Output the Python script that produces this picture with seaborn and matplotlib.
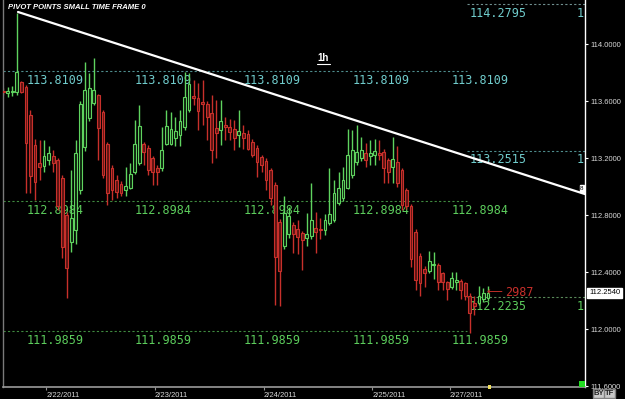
import numpy as np
import pandas as pd
import matplotlib
matplotlib.use('Agg')
import matplotlib.pyplot as plt
import seaborn as sns
from matplotlib.lines import Line2D
from matplotlib.patches import Rectangle

# ---------------- data ----------------
opens = [113.670, 113.656, 113.663, 113.663, 113.733, 113.698, 113.502, 113.291, 113.165, 113.144,
         113.186, 113.214, 113.186, 113.060, 112.800, 112.610, 112.695, 112.976, 113.277, 113.481,
         113.586, 113.642, 113.523, 113.298, 113.130, 113.046, 113.018, 112.976, 112.990, 113.102,
         113.165, 113.298, 113.270, 113.200, 113.130, 113.130, 113.298, 113.298, 113.340, 113.361,
         113.418, 113.537, 113.635, 113.621, 113.593, 113.579, 113.516, 113.411, 113.396, 113.432,
         113.418, 113.404, 113.361, 113.375, 113.368, 113.312, 113.270, 113.207, 113.179, 113.116,
         113.011, 112.751, 112.582, 112.667, 112.730, 112.702, 112.674, 112.638, 112.653, 112.709,
         112.702, 112.695, 112.744, 112.765, 112.884, 112.919, 112.990, 113.081, 113.172, 113.200,
         113.235, 113.214, 113.221, 113.235, 113.242, 113.186, 113.137, 113.172, 113.116, 112.976,
         112.863, 112.681, 112.512, 112.421, 112.407, 112.449, 112.449, 112.393, 112.330, 112.295,
         112.330, 112.337, 112.323, 112.232, 112.183, 112.183, 112.211, 112.218]
highs = [113.690, 113.698, 113.705, 114.218, 113.740, 113.710, 113.540, 113.330, 113.326, 113.326,
         113.284, 113.256, 113.200, 113.080, 112.820, 113.116, 113.326, 113.600, 113.874, 113.796,
         113.902, 113.650, 113.540, 113.310, 113.150, 113.080, 113.040, 113.137, 113.165, 113.467,
         113.572, 113.310, 113.290, 113.215, 113.150, 113.418, 113.537, 113.523, 113.488, 113.537,
         113.804, 113.796, 113.747, 113.726, 113.747, 113.600, 113.640, 113.607, 113.607, 113.488,
         113.474, 113.467, 113.537, 113.432, 113.400, 113.330, 113.290, 113.220, 113.200, 113.130,
         113.030, 112.770, 112.933, 112.856, 112.750, 112.765, 112.690, 112.814, 113.025, 112.821,
         112.779, 112.807, 113.130, 113.046, 113.102, 113.137, 113.404, 113.396, 113.432, 113.347,
         113.305, 113.326, 113.333, 113.326, 113.260, 113.200, 113.347, 113.284, 113.130, 112.990,
         112.880, 112.700, 112.530, 112.440, 112.547, 112.540, 112.460, 112.400, 112.340, 112.400,
         112.400, 112.350, 112.330, 112.250, 112.232, 112.302, 112.288, 112.302]
lows = [113.640, 113.628, 113.635, 113.642, 113.656, 112.954, 112.954, 112.905, 113.046, 113.102,
        113.151, 113.102, 112.835, 112.498, 112.218, 112.540, 112.600, 112.950, 113.250, 113.460,
        113.570, 113.186, 113.060, 112.870, 112.905, 112.920, 112.933, 112.933, 112.980, 113.090,
        113.150, 113.151, 113.081, 113.011, 113.011, 113.110, 113.290, 113.290, 113.284, 113.284,
        113.400, 113.520, 113.572, 113.396, 113.432, 113.326, 113.165, 113.200, 113.291, 113.326,
        113.326, 113.256, 113.277, 113.263, 113.256, 113.207, 113.067, 113.102, 112.976, 112.870,
        112.168, 112.161, 112.560, 112.640, 112.533, 112.526, 112.414, 112.582, 112.630, 112.533,
        112.631, 112.660, 112.730, 112.750, 112.870, 112.900, 112.980, 113.060, 113.150, 113.180,
        113.137, 113.151, 113.151, 113.186, 113.025, 113.025, 113.025, 113.000, 112.835, 112.840,
        112.435, 112.274, 112.232, 112.295, 112.390, 112.351, 112.274, 112.274, 112.204, 112.280,
        112.274, 112.211, 112.204, 111.972, 112.098, 112.170, 112.190, 112.200]
closes = [113.663, 113.670, 113.670, 113.804, 113.663, 113.305, 113.074, 113.032, 113.137, 113.214,
          113.235, 113.165, 112.863, 112.575, 112.428, 112.779, 113.235, 113.579, 113.677, 113.691,
          113.677, 113.411, 113.081, 112.954, 112.976, 112.961, 112.954, 113.004, 113.088, 113.298,
          113.425, 113.242, 113.116, 113.102, 113.102, 113.256, 113.425, 113.404, 113.389, 113.460,
          113.628, 113.719, 113.621, 113.530, 113.579, 113.488, 113.256, 113.375, 113.460, 113.418,
          113.382, 113.340, 113.389, 113.340, 113.263, 113.221, 113.172, 113.151, 113.046, 112.919,
          112.505, 112.407, 112.814, 112.793, 112.667, 112.646, 112.624, 112.667, 112.765, 112.681,
          112.695, 112.765, 112.807, 112.954, 112.990, 113.046, 113.221, 113.256, 113.242, 113.256,
          113.186, 113.235, 113.249, 113.221, 113.130, 113.102, 113.193, 113.025, 112.870, 112.863,
          112.491, 112.344, 112.323, 112.393, 112.477, 112.456, 112.330, 112.330, 112.281, 112.358,
          112.344, 112.274, 112.232, 112.112, 112.161, 112.232, 112.253, 112.254]

date_labels = ['2/22/2011', '2/23/2011', '2/24/2011', '2/25/2011', '2/27/2011']
date_tick_pos = [9.5, 33.5, 57.5, 81.5, 98.5]
price_ticks = [111.6, 112.0, 112.4, 112.8, 113.2, 113.6, 114.0]

pivot_left_levels = [113.8109, 112.8984, 111.9859]
pivot_left_colors = ['#70cccc', '#5ccc5c', '#5ccc5c']
pivot_left_line_colors = ['#4e8c8c', '#3f8a3f', '#3f8a3f']
pivot_label_pos = [5.2, 29.1, 53.1, 77.2, 99.0]
pivot_right_levels = [114.2795, 113.2515, 112.2235]
pivot_right_colors = ['#70cccc', '#70cccc', '#5ccc5c']
pivot_right_line_colors = ['#6f8f8f', '#4e8c8c', '#5a8a5a']

trend_x = [3.25, 128.4]
trend_y = [114.225, 112.947]
last_price = 112.2540

# ---------------- style ----------------
sns.set_theme(style='dark', rc={'axes.facecolor': 'black', 'figure.facecolor': 'black'})
plt.rcParams['font.family'] = ['Liberation Sans', 'DejaVu Sans']

fig = plt.figure(figsize=(6.25, 3.99), dpi=100, facecolor='black')
ax = fig.add_axes([3 / 625, 12 / 399, 582 / 625, 387 / 399])
ax.set_facecolor('black')
ax.grid(False)

XL, XR = -0.066, 128.41
ax.set_xlim(XL, XR)
ax.set_ylim(111.593, 114.309)

df = pd.DataFrame({'o': opens, 'h': highs, 'l': lows, 'c': closes})
df['i'] = np.arange(len(df))
up = df['c'] >= df['o']
edge = np.where(up, '#5fd35f', '#c8302b')
face = np.where(up, '#0c220c', '#5e1412')

# pivot lines and labels (under candles)
for lvl, tc, lc in zip(pivot_left_levels, pivot_left_colors, pivot_left_line_colors):
    ax.hlines(lvl, XL, 102.4, colors=lc, linestyles=(0, (2, 2)), lw=0.8, zorder=1)
    for p in pivot_label_pos:
        ax.text(p, lvl - 0.018, f'{lvl:.4f}', va='top', ha='left', color=tc,
                family='DejaVu Sans Mono', fontsize=8.5, zorder=1)
for lvl, tc, lc in zip(pivot_right_levels, pivot_right_colors, pivot_right_line_colors):
    ax.hlines(lvl, 102.4, XR, colors=lc, linestyles=(0, (2, 2)), lw=0.8, zorder=1)
    ax.text(103.0, lvl - 0.018, f'{lvl:.4f}', va='top', ha='left', color=tc,
            family='DejaVu Sans Mono', fontsize=8.5, zorder=1)
    ax.text(126.6, lvl - 0.018, '1', va='top', ha='left', color=tc,
            family='DejaVu Sans Mono', fontsize=8.5, zorder=1)

# candles
ax.vlines(df['i'], df['l'], df['h'], colors=edge, lw=1.0, zorder=2)
bottoms = np.minimum(df['o'], df['c'])
heights = np.maximum(np.abs(df['c'] - df['o']), 0.004)
ax.bar(df['i'], heights, bottom=bottoms, width=0.62, color=face, edgecolor=edge,
       linewidth=0.8, zorder=3)

# trendline
sns.lineplot(x=trend_x, y=trend_y, ax=ax, color='white', lw=1.6, zorder=4)

# red marker near last price
ax.text(106.6, 112.258, '\u27f5', color='#c8302b', fontsize=8, va='center', ha='left', zorder=5)
ax.text(110.8, 112.258, '2987', color='#c8302b', family='DejaVu Sans Mono', fontsize=8.5,
        va='center', ha='left', zorder=5)

# axes / ticks
ax.yaxis.tick_right()
ax.set_yticks(price_ticks)
ax.set_yticklabels([f'{v:.4f}' for v in price_ticks])
ax.tick_params(axis='y', colors='white', labelcolor='#d8d8d8', labelsize=5.5, length=2.5,
               pad=1.5, width=0.8, right=True, left=False)
ax.set_xticks(date_tick_pos)
ax.set_xticklabels(date_labels)
for lab in ax.get_xticklabels():
    lab.set_ha('left')
ax.tick_params(axis='x', colors='#909090', labelcolor='#d8d8d8', labelsize=5.5, length=2,
               pad=1.5, width=0.8, bottom=True)
ax.spines['top'].set_visible(False)
ax.spines['left'].set_color('#7a7a7a')
ax.spines['left'].set_linewidth(1.0)
ax.spines['bottom'].set_color('#9a9a9a')
ax.spines['bottom'].set_linewidth(1.2)
ax.spines['right'].set_color('white')
ax.spines['right'].set_linewidth(1.0)
ax.set_xlabel('')
ax.set_ylabel('')

# decorations
fig.text(8 / 625, 1 - 7.5 / 399, 'PIVOT POINTS SMALL TIME FRAME 0', fontsize=5.5, style='italic',
         weight='bold', color='white', va='center', ha='left')
fig.text(323 / 625, 1 - 58 / 399, '1h', fontsize=7, weight='bold', color='white',
         ha='center', va='center')
fig.add_artist(Line2D([317 / 625, 330 / 625], [1 - 64 / 399] * 2, color='white', lw=0.8,
                      transform=fig.transFigure))
fig.text(589 / 625, 1 - 293 / 399, f'{last_price:.4f}', fontsize=5.5, color='black',
         va='center', ha='left',
         bbox=dict(facecolor='white', edgecolor='white', boxstyle='square,pad=0.25'))
fig.text(582 / 625, 1 - 188.5 / 399, '8', fontsize=4.5, color='black', va='center', ha='center',
         bbox=dict(facecolor='white', edgecolor='white', boxstyle='square,pad=0.1'))
fig.text(599 / 625, 1 - 393.5 / 399, 'BY', fontsize=5.5, weight='bold', color='#202020',
         va='center', ha='center',
         bbox=dict(facecolor='#c8c8c8', edgecolor='#808080', boxstyle='square,pad=0.12'))
fig.text(609.5 / 625, 1 - 393.5 / 399, 'TF', fontsize=5.5, weight='bold', color='#202020',
         va='center', ha='center',
         bbox=dict(facecolor='#c8c8c8', edgecolor='#808080', boxstyle='square,pad=0.12'))
fig.add_artist(Rectangle((579 / 625, 12 / 399), 6 / 625, 6 / 399, transform=fig.transFigure,
                         facecolor='#22dd22', edgecolor='none'))
fig.add_artist(Rectangle((488 / 625, 10 / 399), 3 / 625, 4 / 399, transform=fig.transFigure,
                         facecolor='#f0e060', edgecolor='none'))

fig.savefig('out.png', dpi=100, facecolor='black')
